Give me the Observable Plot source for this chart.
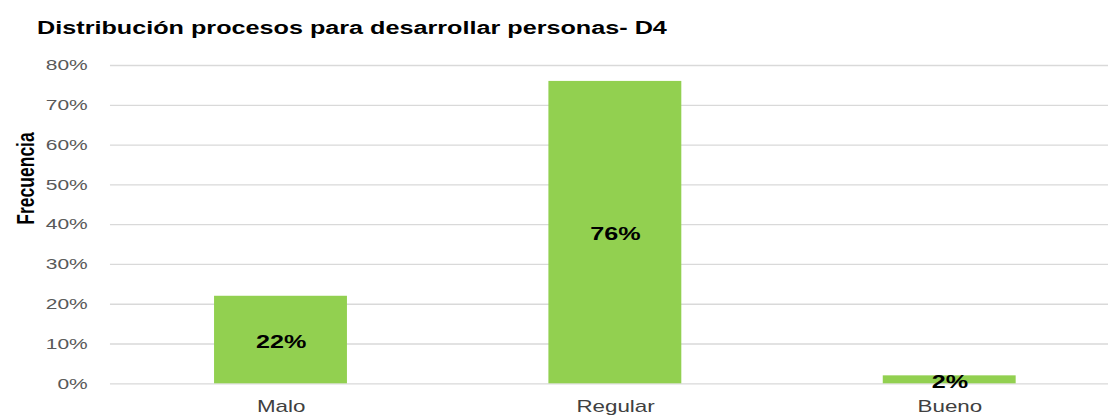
<!DOCTYPE html>
<html><head><meta charset="utf-8">
<script src="https://cdn.jsdelivr.net/npm/d3@7"></script>
<script src="https://cdn.jsdelivr.net/npm/@observablehq/plot@0.6"></script>
<style>
html,body{margin:0;padding:0;background:#fff;overflow:hidden;width:1108px;height:416px;}
#wrap{width:792px;transform:scaleX(1.39899);transform-origin:0 0;}
#title{height:50px;box-sizing:border-box;padding-top:18px;padding-left:26.5px;font:bold 18px "Liberation Sans",Arial,sans-serif;line-height:20px;color:#000;white-space:nowrap;}
</style>
</head><body>
<div id="wrap"><div id="title">Distribución procesos para desarrollar personas- D4</div><div id="chart"></div></div>
<script>
const categories = ["Malo", "Regular", "Bueno"];
const values = [0.22, 0.76, 0.02];
const valueLabels = ["22%", "76%", "2%"];
const yTicks = [0, 0.1, 0.2, 0.3, 0.4, 0.5, 0.6, 0.7, 0.8];
const yLabel = "Frecuencia";

const data = categories.map((c, i) => ({cat: c, val: values[i], label: valueLabels[i]}));

const chart = Plot.plot({
  width: 792,
  height: 366,
  marginTop: 15,
  marginBottom: 32.7,
  marginLeft: 78.6,
  marginRight: 0,
  style: {fontFamily: "'Liberation Sans', Arial, sans-serif", background: "#fff"},
  x: {type: "band", domain: categories, range: [80.4, 798.4], paddingInner: 0.604, paddingOuter: 0.3},
  y: {domain: [0, 0.8]},
  marks: [
    Plot.gridY(yTicks, {stroke: "#d9d9d9", strokeOpacity: 1, strokeWidth: 1.3}),
    Plot.axisY(yTicks, {tickFormat: d3.format(".0%"), tickSize: 0, tickPadding: 16.4, fontSize: 15, fill: "#595959", label: null}),
    Plot.axisX({tickSize: 0, tickPadding: 16.5, fontSize: 16, fill: "#404040", label: null}),
    Plot.barY(data, {x: "cat", y: "val", fill: "#92D050"}),
    Plot.text(data, {x: "cat", y: d => d.val / 2, text: "label", fontSize: 18, fontWeight: "bold", fill: "#000", dy: 2}),
    Plot.text([yLabel], {frameAnchor: "left", rotate: -90, dx: -60.5, fontSize: 17.5, fontWeight: "bold", fill: "#000"})
  ]
});
document.getElementById("chart").appendChild(chart);
</script>
</body></html>
